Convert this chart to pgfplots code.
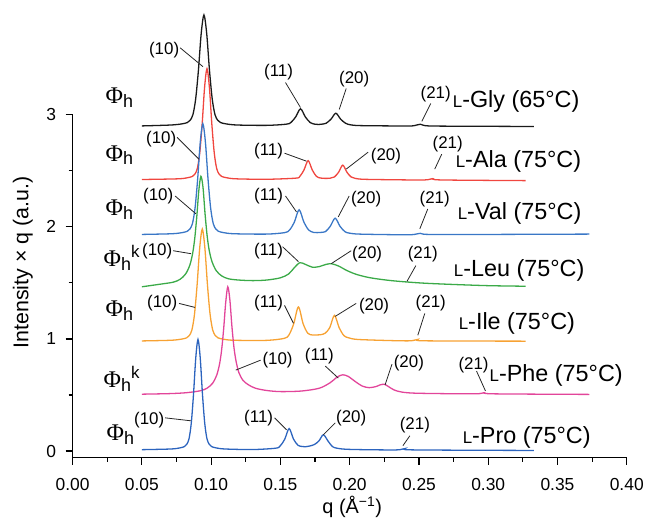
\documentclass[border=0pt]{standalone}
\usepackage{fontspec}
\setmainfont{Liberation Sans}
\newfontfamily\phifont{Liberation Serif}
\usepackage{pgfplots}
\pgfplotsset{compat=1.18}

\definecolor{cGly}{HTML}{1A1A1A}
\definecolor{cAla}{HTML}{F0463F}
\definecolor{cVal}{HTML}{3A77C6}
\definecolor{cLeu}{HTML}{3BAA48}
\definecolor{cIle}{HTML}{F7A233}
\definecolor{cPhe}{HTML}{E2459A}
\definecolor{cPro}{HTML}{2C64BE}

\newcommand{\fs}[1]{\fontsize{#1}{#1}\selectfont}
\newcommand{\smL}{{\fs{17}L}}
\newcommand{\phih}{{\phifont\fs{24}Φ}\raisebox{-4pt}{\fs{18}h}}
\newcommand{\phihk}{{\phifont\fs{24}Φ}\raisebox{-4pt}{\fs{18}h}\raisebox{9pt}{\fs{17}k}}

\begin{document}
\begin{tikzpicture}
\begin{axis}[
    scale only axis,
    width=557pt, height=344.7pt,
    xmin=0, xmax=0.40,
    ymin=-0.059, ymax=3,
    axis lines=left,
    axis line style={-, line width=1.4pt},
    clip=false,
    xtick={0,0.05,...,0.40},
    ytick={0,1,2,3},
    minor x tick num=1,
    minor y tick num=1,
    tick align=outside,
    major tick length=7pt,
    minor tick length=4pt,
    tick style={line width=1.2pt, black},
    /pgf/number format/assume math mode=true,
    xticklabel style={/pgf/number format/.cd, fixed, fixed zerofill, precision=2, /tikz/.cd, yshift=-10pt},
    yticklabel style={xshift=-6pt},
    ticklabel style={font=\fs{17.5}},
    xlabel={q (Å\textsuperscript{−1})},
    ylabel={Intensity × q (a.u.)},
    xlabel style={font=\fs{20}, at={(axis description cs:0.5045,-0.145)}, anchor=center},
    ylabel style={font=\fs{21.5}, at={(axis description cs:-0.0898,0.5686)}, anchor=center},
    every axis plot/.append style={line width=1.3pt, smooth, no markers},
]
% L-Gly
\addplot[cGly] coordinates {
(0.05,2.900) (0.0708,2.908) (0.0788,2.918) (0.0828,2.930) (0.0848,2.950) (0.0868,2.999)
(0.0888,3.138) (0.0908,3.395) (0.0928,3.722) (0.0948,3.890) (0.0968,3.722) (0.0988,3.395)
(0.1008,3.138) (0.1028,2.999) (0.1048,2.950) (0.1068,2.930) (0.1108,2.918) (0.1188,2.908)
(0.14,2.905) (0.154,2.915) (0.1575,2.930) (0.161,2.980) (0.1645,3.053) (0.168,2.980)
(0.1715,2.930) (0.175,2.915) (0.1775,2.913) (0.1795,2.915) (0.183,2.924) (0.1865,2.960)
(0.190,3.013) (0.1935,2.960) (0.197,2.924) (0.2005,2.910) (0.207,2.903) (0.23,2.900)
(0.245,2.900) (0.251,2.915) (0.257,2.900) (0.29,2.897) (0.333,2.895)
};
% L-Ala
\addplot[cAla] coordinates {
(0.05,2.422) (0.076,2.428) (0.083,2.438) (0.0865,2.450) (0.08825,2.470) (0.090,2.519)
(0.09175,2.658) (0.0935,2.915) (0.09525,3.242) (0.097,3.410) (0.09875,3.242) (0.1005,2.915)
(0.10225,2.658) (0.104,2.519) (0.10575,2.470) (0.1075,2.450) (0.111,2.438) (0.118,2.428)
(0.14,2.424) (0.161,2.434) (0.164,2.450) (0.167,2.507) (0.170,2.590) (0.173,2.507)
(0.176,2.450) (0.179,2.435) (0.1825,2.432) (0.186,2.434) (0.189,2.445) (0.192,2.487)
(0.195,2.550) (0.198,2.487) (0.201,2.445) (0.204,2.432) (0.21,2.424) (0.23,2.420)
(0.254,2.418) (0.260,2.430) (0.266,2.418) (0.327,2.412)
};
% L-Val
\addplot[cVal] coordinates {
(0.05,1.932) (0.0715,1.938) (0.079,1.948) (0.08275,1.960) (0.08463,1.980) (0.0865,2.029)
(0.08838,2.168) (0.09025,2.425) (0.09213,2.752) (0.094,2.920) (0.09588,2.752) (0.09775,2.425)
(0.09963,2.168) (0.1015,2.029) (0.10338,1.980) (0.10525,1.960) (0.109,1.948) (0.1165,1.938)
(0.14,1.935) (0.153,1.948) (0.1565,1.970) (0.160,2.040) (0.1635,2.152) (0.167,2.040)
(0.1705,1.970) (0.174,1.950) (0.1765,1.948) (0.179,1.950) (0.1825,1.957) (0.186,2.005)
(0.1895,2.077) (0.193,2.005) (0.1965,1.957) (0.200,1.943) (0.207,1.935) (0.23,1.930)
(0.245,1.930) (0.251,1.942) (0.257,1.932) (0.30,1.932) (0.373,1.935)
};
% L-Leu
\addplot[cLeu] coordinates {
(0.05,1.465) (0.0626,1.487) (0.0726,1.506) (0.0776,1.532) (0.0816,1.580) (0.0846,1.658)
(0.0866,1.761) (0.0881,1.890) (0.0896,2.086) (0.0911,2.324) (0.0926,2.450) (0.0941,2.354)
(0.0956,2.116) (0.0971,1.920) (0.0986,1.790) (0.1006,1.690) (0.1036,1.610) (0.1076,1.562)
(0.1126,1.536) (0.12,1.525) (0.13,1.520) (0.14,1.525) (0.15,1.545) (0.156,1.580)
(0.160,1.635) (0.164,1.680) (0.168,1.665) (0.173,1.640) (0.178,1.645) (0.183,1.665)
(0.187,1.670) (0.192,1.650) (0.198,1.610) (0.205,1.575) (0.215,1.545) (0.23,1.520)
(0.25,1.500) (0.27,1.488) (0.30,1.475) (0.327,1.470)
};
% L-Ile
\addplot[cIle] coordinates {
(0.05,0.982) (0.0711,0.988) (0.0786,0.998) (0.08235,1.010) (0.08423,1.030) (0.0861,1.080)
(0.08798,1.220) (0.08985,1.480) (0.09173,1.810) (0.0936,1.980) (0.09548,1.810) (0.09735,1.480)
(0.09923,1.220) (0.1011,1.080) (0.10298,1.030) (0.10485,1.010) (0.1086,0.998) (0.1161,0.988)
(0.14,0.987) (0.1528,1.005) (0.1562,1.036) (0.1596,1.135) (0.163,1.285) (0.1664,1.135)
(0.1698,1.050) (0.1732,1.035) (0.176,1.035) (0.1788,1.037) (0.1822,1.050) (0.1856,1.100)
(0.189,1.210) (0.1924,1.100) (0.1958,1.030) (0.1992,1.010) (0.206,0.995) (0.23,0.985)
(0.244,0.983) (0.249,0.995) (0.254,0.983) (0.327,0.980)
};
% L-Phe
\addplot[cPhe] coordinates {
(0.05,0.507) (0.07,0.512) (0.082,0.520) (0.092,0.537) (0.097,0.560) (0.101,0.604)
(0.104,0.676) (0.106,0.772) (0.1075,0.895) (0.109,1.085) (0.1105,1.324) (0.112,1.465)
(0.1135,1.350) (0.115,1.110) (0.1165,0.920) (0.118,0.800) (0.120,0.700) (0.123,0.630)
(0.127,0.590) (0.132,0.560) (0.14,0.540) (0.15,0.530) (0.165,0.535) (0.178,0.560)
(0.186,0.610) (0.191,0.660) (0.195,0.680) (0.199,0.665) (0.204,0.620) (0.209,0.580)
(0.214,0.565) (0.219,0.575) (0.222,0.590) (0.225,0.595) (0.228,0.575) (0.232,0.545)
(0.238,0.525) (0.25,0.515) (0.29,0.510) (0.297,0.520) (0.304,0.510) (0.373,0.505)
};
% L-Pro
\addplot[cPro] coordinates {
(0.05,0.012) (0.071,0.018) (0.0775,0.028) (0.08075,0.040) (0.08238,0.060) (0.084,0.108)
(0.08563,0.246) (0.08725,0.503) (0.08888,0.828) (0.0905,0.995) (0.09213,0.828) (0.09375,0.503)
(0.09538,0.246) (0.097,0.108) (0.09863,0.060) (0.10025,0.040) (0.1035,0.028) (0.11,0.018)
(0.13,0.013) (0.1465,0.025) (0.1498,0.045) (0.1531,0.105) (0.1563,0.200) (0.1595,0.105)
(0.1628,0.050) (0.166,0.040) (0.168,0.038) (0.1713,0.045) (0.1745,0.058) (0.1778,0.090)
(0.181,0.145) (0.1843,0.090) (0.1875,0.040) (0.1908,0.025) (0.197,0.016) (0.21,0.012)
(0.234,0.010) (0.240,0.022) (0.246,0.010) (0.333,0.005)
};
\end{axis}
% annotations, in picture pixels measured from the top left corner
\begin{scope}[shift={(-73pt,460pt)}, x=1pt, y=-1pt, font=\fs{17}]
\path (0,0) rectangle (647,519);
\tikzset{ld/.style={line width=0.8pt, black!85}}
% L-Gly
\node[anchor=west, inner sep=0] at (106,98) {\phih};
\node at (165,50) {(10)}; \draw[ld] (181,48) -- (204,67);
\node at (280,73) {(11)}; \draw[ld] (287,83) -- (302,108);
\node at (356,80) {(20)}; \draw[ld] (348,89) -- (341,110);
\node at (438,95) {(21)}; \draw[ld] (433,104) -- (424,122);
\node[anchor=west, inner sep=0, font=\fs{23.5}] at (455,102) {\smL-Gly (65°C)};
% L-Ala
\node[anchor=west, inner sep=0] at (106,156) {\phih};
\node at (162,140) {(10)}; \draw[ld] (178,138) -- (200,160);
\node at (270,152) {(11)}; \draw[ld] (286,154) -- (308,162);
\node at (388,157) {(20)}; \draw[ld] (370,153) -- (348,170);
\node at (450,145) {(21)}; \draw[ld] (444,155) -- (437,170);
\node[anchor=west, inner sep=0, font=\fs{23.5}] at (458,162) {\smL-Ala (75°C)};
% L-Val
\node[anchor=west, inner sep=0] at (106,211) {\phih};
\node at (159,197) {(10)}; \draw[ld] (176,197) -- (197,215);
\node at (270,197) {(11)}; \draw[ld] (287,197) -- (298,213);
\node at (368,200) {(20)}; \draw[ld] (351,197) -- (340,218);
\node at (437,200) {(21)}; \draw[ld] (430,210) -- (422,230);
\node[anchor=west, inner sep=0, font=\fs{23.5}] at (460,215) {\smL-Val (75°C)};
% L-Leu
\node[anchor=west, inner sep=0] at (104,259) {\phihk};
\node at (158,252) {(10)}; \draw[ld] (174,252) -- (192,255);
\node at (270,252) {(11)}; \draw[ld] (284,248) -- (300,263);
\node at (369,255) {(20)}; \draw[ld] (353,252) -- (333,265);
\node at (425,255) {(21)}; \draw[ld] (418,267) -- (409,283);
\node[anchor=west, inner sep=0, font=\fs{23.5}] at (456,272) {\smL-Leu (75°C)};
% L-Ile
\node[anchor=west, inner sep=0] at (106,312) {\phih};
\node at (163,305) {(10)}; \draw[ld] (180,305) -- (196,309);
\node at (270,305) {(11)}; \draw[ld] (286,307) -- (295,325);
\node at (376,308) {(20)}; \draw[ld] (358,305) -- (337,318);
\node at (433,305) {(21)}; \draw[ld] (427,315) -- (420,337);
\node[anchor=west, inner sep=0, font=\fs{23.5}] at (461,325) {\smL-Ile (75°C)};
% L-Phe
\node[anchor=west, inner sep=0] at (104,381) {\phihk};
\node at (279,362) {(10)}; \draw[ld] (262,362) -- (237,372);
\node at (321,358) {(11)}; \draw[ld] (327,368) -- (340,380);
\node at (411,365) {(20)}; \draw[ld] (394,366) -- (387,387);
\node at (476,367) {(21)}; \draw[ld] (479,373) -- (488,393);
\node[anchor=west, inner sep=0, font=\fs{23.5}] at (492,377) {\smL-Phe (75°C)};
% L-Pro
\node[anchor=west, inner sep=0] at (107,437) {\phih};
\node at (150,422) {(10)}; \draw[ld] (166,420) -- (192,423);
\node at (260,420) {(11)}; \draw[ld] (276,420) -- (288,432);
\node at (353,420) {(20)}; \draw[ld] (337,425) -- (325,437);
\node at (417,427) {(21)}; \draw[ld] (412,438) -- (405,448);
\node[anchor=west, inner sep=0, font=\fs{23.5}] at (465,440) {\smL-Pro (75°C)};
\end{scope}
\end{tikzpicture}
\end{document}
